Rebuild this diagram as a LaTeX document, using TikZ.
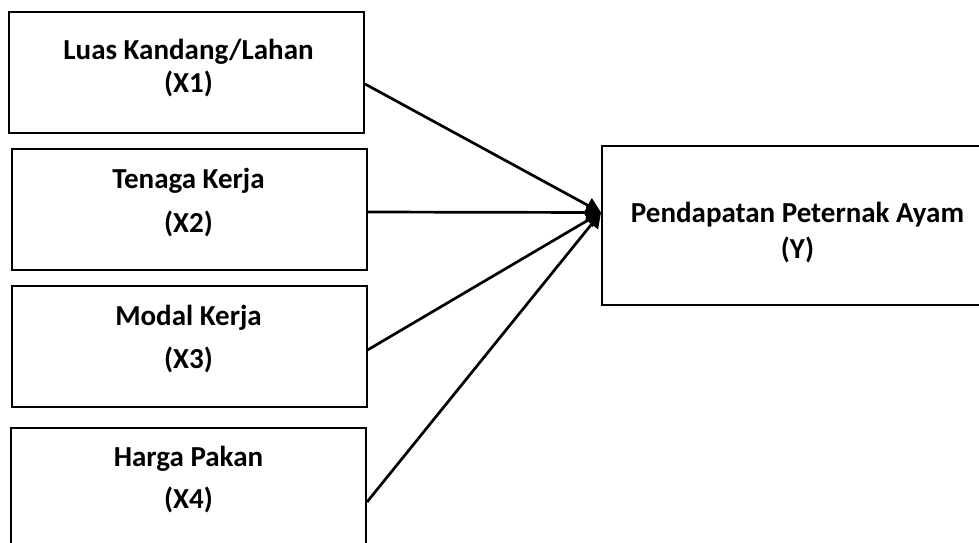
\documentclass[tikz,border=0pt]{standalone}
\usepackage{fontspec}
\setmainfont{Carlito}
\usetikzlibrary{arrows.meta}

\tikzset{
	kotak/.style={shape=rectangle, draw=black, line width=1pt, minimum width=177.5pt, minimum height=60.5pt, inner sep=0pt},
	teks/.style={align=center, font=\fontsize{14.5}{16}\selectfont\bfseries, inner sep=0pt},
	panah/.style={line width=1.35pt, -{Triangle[length=7.5pt,width=8pt]}}
}

\begin{document}
\begin{tikzpicture}[x=0.5pt, y=-0.5pt]
	\useasboundingbox (0,0) rectangle (979,542);

	\node[kotak] (x1) at (186.5, 72.5)     {};
	\node[kotak] (x2) at (189, 209)     {};
	\node[kotak] (x3) at (189, 346.5)     {};
	\node[kotak] (x4) at (188.5, 488.5)     {};
	\node[kotak, minimum width=195.5pt, minimum height=79.5pt] (y) at (797.5, 225.5)     {};

	\node[teks] (t1) at (188.5, 68.5)     {Luas Kandang/Lahan\\[0.5pt](X1)};
	\node[teks] (t2) at (188.5, 202.5)     {Tenaga Kerja\\[6pt](X2)};
	\node[teks] (t3) at (188.5, 339.5)     {Modal Kerja\\[5.5pt](X3)};
	\node[teks] (t4) at (188.5, 480)     {Harga Pakan\\[5pt](X4)};
	\node[teks] (ty) at (797.5, 233)     {Pendapatan Peternak Ayam\\[2pt](Y)};

	\path[panah] ([yshift=-5.75pt]x1.east) edge ([yshift=6.5pt]y.west);
	\path[panah] ([yshift=-1.5pt]x2.east) edge ([yshift=6.5pt]y.west);
	\path[panah] ([yshift=-1.75pt]x3.east) edge ([yshift=6.5pt]y.west);
	\path[panah] ([yshift=-6.75pt]x4.east) edge ([yshift=6.5pt]y.west);
\end{tikzpicture}
\end{document}
